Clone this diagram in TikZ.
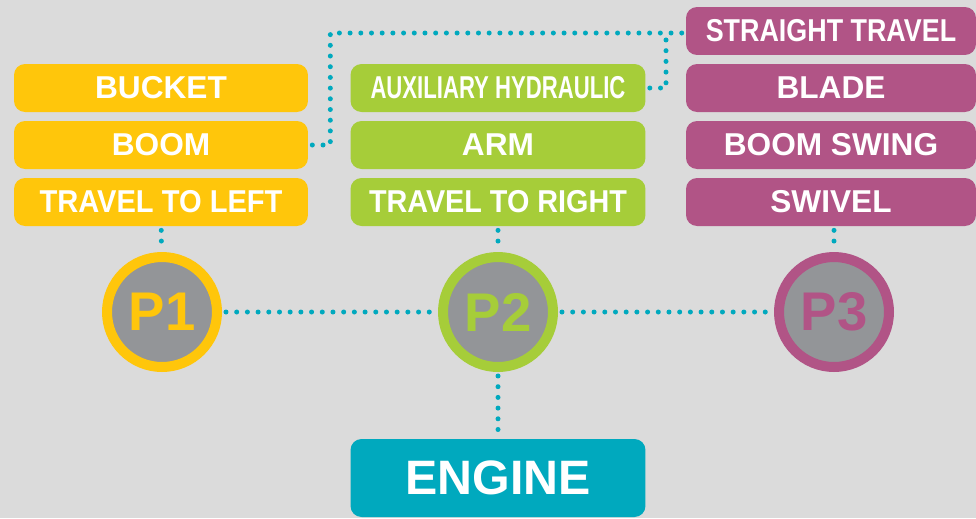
\documentclass[tikz,border=0pt]{standalone}
\usepackage{fontspec}
\setmainfont{Liberation Sans}
\usepackage{xcolor}
\usetikzlibrary{positioning, calc}

\definecolor{pyellow}{HTML}{FFC60B}
\definecolor{pgreen}{HTML}{A6CD39}
\definecolor{ppurple}{HTML}{B15486}
\definecolor{pteal}{HTML}{00A9BE}
\definecolor{pgrey}{HTML}{939598}
\definecolor{pbg}{HTML}{DBDBDB}

\begin{document}
\begin{tikzpicture}[x=0.02cm, y=-0.02cm,
        component/.style={
                rectangle,
                rounded corners=0.22cm,
                minimum width=5.88cm,
                minimum height=0.96cm,
                inner sep=0pt,
                text=white,
                font=\fontsize{18}{20}\selectfont\bfseries,
        },
        pump/.style={
                circle,
                line width=0.2cm,
                minimum size=2.2cm,
                inner sep=0pt,
                fill=pgrey,
                font=\fontsize{31}{33}\selectfont\bfseries,
        },
        dots/.style={
                draw=pteal,
                line width=0.1cm,
                line cap=round,
                dash pattern=on 0pt off 0.214cm,
                shorten <=0.08cm,
                shorten >=0.08cm,
        }]
            \fill[pbg] (0, 0) rectangle (976, 518);
            \useasboundingbox (0, 0) rectangle (976, 518);

            % pump 1
            \node[component, fill=pyellow] (bucket) at (161, 88) {BUCKET};
            \node[component, fill=pyellow] (boom) at (161, 145) {BOOM};
            \node[component, fill=pyellow] (tleft) at (161, 202) {\scalebox{0.92}[1]{TRAVEL TO LEFT}};
            % pump 2
            \node[component, fill=pgreen, minimum width=5.9cm] (aux) at (498, 88) {\scalebox{0.7}[1]{AUXILIARY HYDRAULIC}};
            \node[component, fill=pgreen, minimum width=5.9cm] (arm) at (498, 145) {ARM};
            \node[component, fill=pgreen, minimum width=5.9cm] (tright) at (498, 202) {\scalebox{0.91}[1]{TRAVEL TO RIGHT}};
            % pump 3
            \node[component, fill=ppurple, minimum width=5.8cm] (straight) at (831, 31) {\scalebox{0.85}[1]{STRAIGHT TRAVEL}};
            \node[component, fill=ppurple, minimum width=5.8cm] (blade) at (831, 88) {BLADE};
            \node[component, fill=ppurple, minimum width=5.8cm] (swing) at (831, 145) {BOOM SWING};
            \node[component, fill=ppurple, minimum width=5.8cm] (swivel) at (831, 202) {SWIVEL};

            \node[pump, draw=pyellow, text=pyellow] (p1) at (162, 312) {P1};
            \node[pump, draw=pgreen, text=pgreen] (p2) at (498, 312) {P2};
            \node[pump, draw=ppurple, text=ppurple] (p3) at (834, 312) {P3};

            \node[component, fill=pteal, minimum width=5.9cm, minimum height=1.56cm,
                font=\fontsize{27.5}{30}\selectfont\bfseries] (engine) at (498, 478) {ENGINE};

            \coordinate (auxjoin) at (666, 33);

            \draw[dots] (tleft) -- (p1);
            \draw[dots] (tright) -- (p2);
            \draw[dots] (swivel.south -| p3) -- (p3);
            \draw[dots] (p1) -- (p2);
            \draw[dots] (p2) -- (p3);
            \draw[dots] (p2) -- (engine);
            \draw[dots, shorten >=0pt] (boom.east) -- ++(22, 0) |- (straight.west |- auxjoin);
            \draw[dots] (aux.east) -| (auxjoin);
        \end{tikzpicture}
\end{document}
